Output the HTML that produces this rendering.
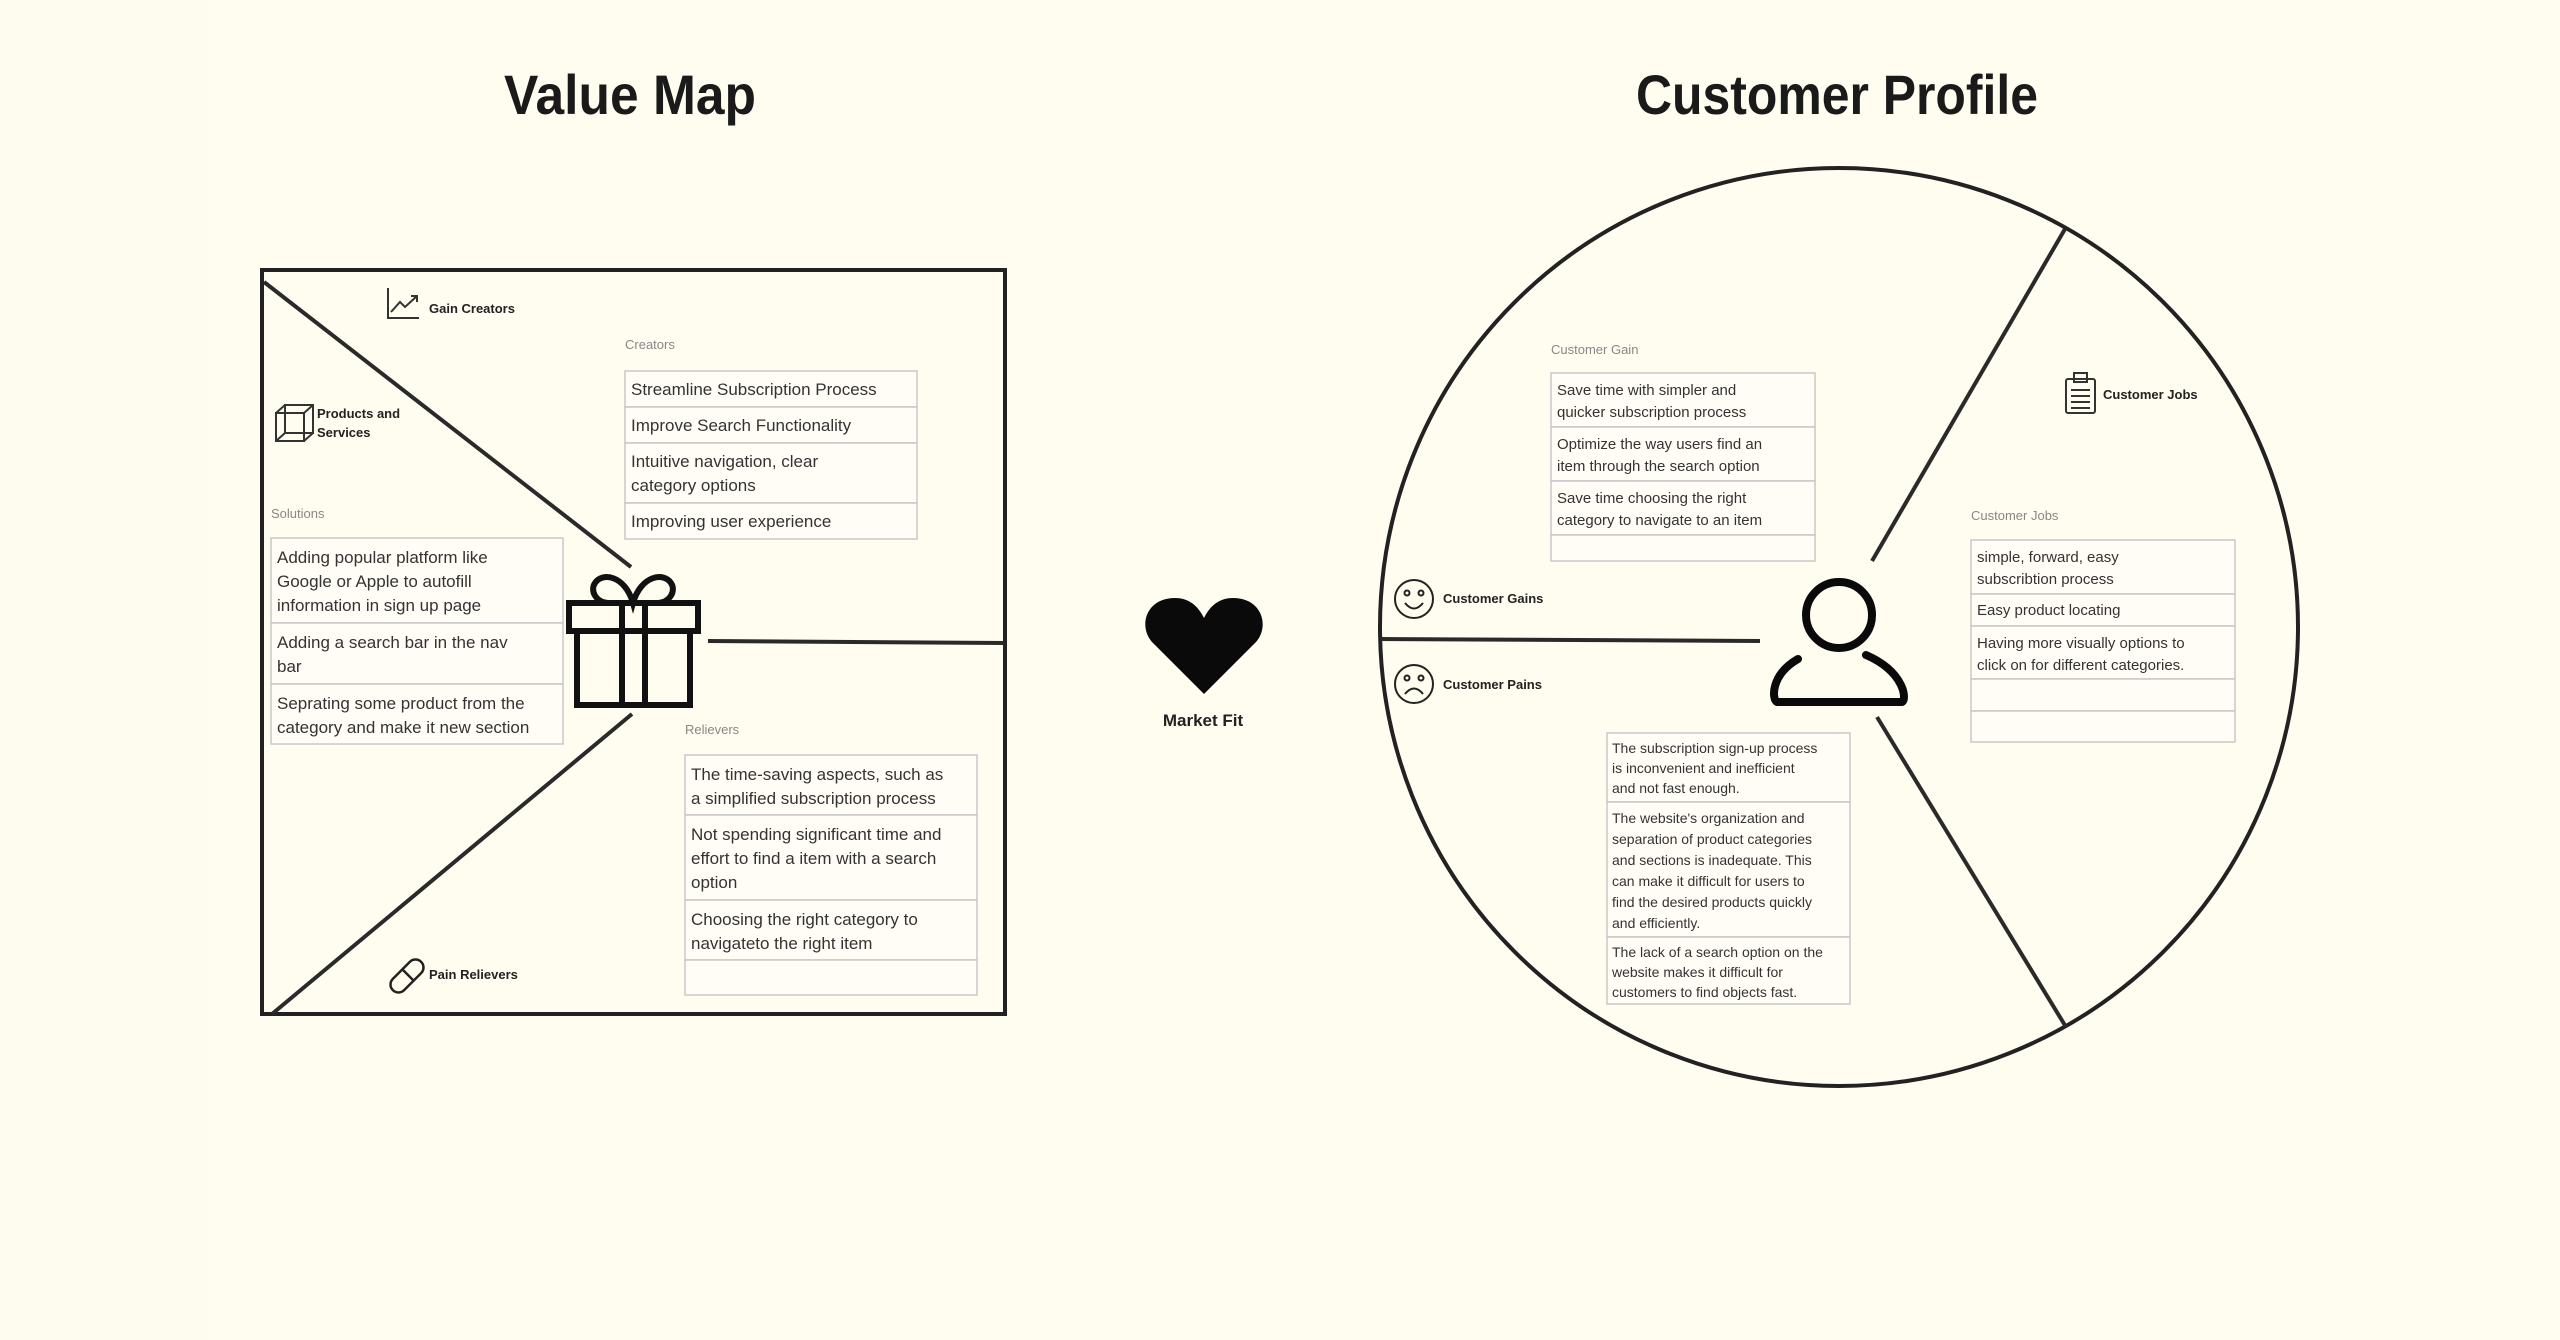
<!DOCTYPE html>
<html><head><meta charset="utf-8"><style>
html,body{margin:0;padding:0;background:#fffcf0;}
svg{display:block;}
text{font-family:"Liberation Sans",sans-serif;}
.t{font-size:17px;fill:#333;}
.s{font-size:15px;fill:#333;}
.p{font-size:14px;fill:#333;}
.g{font-size:13px;fill:#888;}
.b{font-size:13px;font-weight:bold;fill:#222;}
.cell{fill:#fffdf6;stroke:#c8c8c8;stroke-width:1.5;}
</style></head><body>
<svg width="2560" height="1340" viewBox="0 0 2560 1340" xmlns="http://www.w3.org/2000/svg">
<rect x="0" y="0" width="2560" height="1340" fill="#fffcf0"/>
<rect x="0" y="0" width="207" height="1340" fill="#fefbef"/>

<text x="630" y="114" text-anchor="middle" font-size="56" font-weight="bold" fill="#1a1a1a" textLength="252" lengthAdjust="spacingAndGlyphs">Value Map</text>
<text x="1837" y="114" text-anchor="middle" font-size="56" font-weight="bold" fill="#1a1a1a" textLength="402" lengthAdjust="spacingAndGlyphs">Customer Profile</text>

<rect x="262" y="270" width="743" height="744" fill="none" stroke="#222" stroke-width="4"/>
<line x1="264" y1="282" x2="631" y2="567" stroke="#2a2a2a" stroke-width="4"/>
<line x1="272" y1="1014" x2="632" y2="714" stroke="#2a2a2a" stroke-width="4"/>
<line x1="708" y1="641" x2="1004" y2="643" stroke="#2a2a2a" stroke-width="4"/>

<g fill="none" stroke="#111" stroke-width="6">
<rect x="569" y="603" width="129" height="28"/>
<rect x="577" y="631" width="113" height="74"/>
<line x1="622" y1="603" x2="622" y2="705"/>
<line x1="645" y1="603" x2="645" y2="705"/>
<path d="M633 603 H610 C595 603 590 590 595 583 C602 572 625 575 633 603 C641 575 664 572 671 583 C676 590 671 603 656 603 Z"/>
</g>

<g fill="none" stroke="#333" stroke-width="2">
<path d="M388 288 V318 H419"/><path d="M391 312 L400 302 L405 307 L417 296 M411 296 H417 V302"/>
</g>
<text class="b" x="429" y="313">Gain Creators</text>
<g fill="none" stroke="#333" stroke-width="2">
<rect x="276" y="413" width="28" height="28"/><rect x="285" y="405" width="28" height="28"/>
<path d="M276 413 L285 405 M304 413 L313 405 M276 441 L285 433 M304 441 L313 433"/>
</g>
<text class="b" x="317" y="418">Products and</text>
<text class="b" x="317" y="437">Services</text>

<text class="g" x="271" y="518">Solutions</text>
<rect class="cell" x="271" y="538" width="292" height="85"/>
<rect class="cell" x="271" y="623" width="292" height="61"/>
<rect class="cell" x="271" y="684" width="292" height="60"/>
<text class="t" x="277" y="563">Adding popular platform like</text>
<text class="t" x="277" y="587">Google or Apple to autofill</text>
<text class="t" x="277" y="611">information in sign up page</text>
<text class="t" x="277" y="648">Adding a search bar in the nav</text>
<text class="t" x="277" y="672">bar</text>
<text class="t" x="277" y="709">Seprating some product from the</text>
<text class="t" x="277" y="733">category and make it new section</text>

<text class="g" x="625" y="349">Creators</text>
<rect class="cell" x="625" y="371" width="292" height="36"/>
<rect class="cell" x="625" y="407" width="292" height="36"/>
<rect class="cell" x="625" y="443" width="292" height="60"/>
<rect class="cell" x="625" y="503" width="292" height="36"/>
<text class="t" x="631" y="395">Streamline Subscription Process</text>
<text class="t" x="631" y="431">Improve Search Functionality</text>
<text class="t" x="631" y="467">Intuitive navigation, clear</text>
<text class="t" x="631" y="491">category options</text>
<text class="t" x="631" y="527">Improving user experience</text>

<text class="g" x="685" y="734">Relievers</text>
<rect class="cell" x="685" y="755" width="292" height="60"/>
<rect class="cell" x="685" y="815" width="292" height="85"/>
<rect class="cell" x="685" y="900" width="292" height="60"/>
<rect class="cell" x="685" y="960" width="292" height="35"/>
<text class="t" x="691" y="780">The time-saving aspects, such as</text>
<text class="t" x="691" y="804">a simplified subscription process</text>
<text class="t" x="691" y="840">Not spending significant time and</text>
<text class="t" x="691" y="864">effort to find a item with a search</text>
<text class="t" x="691" y="888">option</text>
<text class="t" x="691" y="925">Choosing the right category to</text>
<text class="t" x="691" y="949">navigateto the right item</text>

<g fill="none" stroke="#222" stroke-width="2.5">
<rect x="387" y="968" width="40" height="16" rx="8" transform="rotate(-45 407 976)"/>
<line x1="402" y1="969" x2="414" y2="981"/>
</g>
<text class="b" x="429" y="979">Pain Relievers</text>

<path d="M1204 694 L1152 642 C1138 626 1146 598 1175 598 C1192 598 1200 610 1204 618 C1208 610 1216 598 1233 598 C1262 598 1270 626 1256 642 Z" fill="#0a0a0a"/>
<text x="1203" y="726" text-anchor="middle" font-size="17" font-weight="bold" fill="#222">Market Fit</text>

<ellipse cx="1839" cy="627" rx="459" ry="459" fill="none" stroke="#222" stroke-width="4"/>
<line x1="1872" y1="561" x2="2065" y2="229" stroke="#2a2a2a" stroke-width="4"/>
<line x1="1877" y1="717" x2="2066" y2="1027" stroke="#2a2a2a" stroke-width="4"/>
<line x1="1381" y1="639" x2="1760" y2="641" stroke="#2a2a2a" stroke-width="4"/>

<g fill="none" stroke="#0a0a0a" stroke-width="8">
<circle cx="1839" cy="615" r="33"/>
<path d="M1798 659 C1770 675 1772 700 1777 702 H1902 C1907 700 1905 672 1866 655" stroke-linecap="round"/>
</g>

<text class="g" x="1551" y="354">Customer Gain</text>
<rect class="cell" x="1551" y="373" width="264" height="54"/>
<rect class="cell" x="1551" y="427" width="264" height="54"/>
<rect class="cell" x="1551" y="481" width="264" height="54"/>
<rect class="cell" x="1551" y="535" width="264" height="26"/>
<text class="s" x="1557" y="395">Save time with simpler and</text>
<text class="s" x="1557" y="417">quicker subscription process</text>
<text class="s" x="1557" y="449">Optimize the way users find an</text>
<text class="s" x="1557" y="471">item through the search option</text>
<text class="s" x="1557" y="503">Save time choosing the right</text>
<text class="s" x="1557" y="525">category to navigate to an item</text>

<g fill="none" stroke="#333" stroke-width="2">
<rect x="2066" y="379" width="29" height="34" rx="2"/>
<rect x="2074" y="373" width="13" height="9"/>
<path d="M2071 390 H2090 M2071 396 H2090 M2071 402 H2090 M2071 408 H2090"/>
</g>
<text class="b" x="2103" y="399">Customer Jobs</text>

<text class="g" x="1971" y="520">Customer Jobs</text>
<rect class="cell" x="1971" y="540" width="264" height="54"/>
<rect class="cell" x="1971" y="594" width="264" height="32"/>
<rect class="cell" x="1971" y="626" width="264" height="53"/>
<rect class="cell" x="1971" y="679" width="264" height="32"/>
<rect class="cell" x="1971" y="711" width="264" height="31"/>
<text class="s" x="1977" y="562">simple, forward, easy</text>
<text class="s" x="1977" y="584">subscribtion process</text>
<text class="s" x="1977" y="615">Easy product locating</text>
<text class="s" x="1977" y="648">Having more visually options to</text>
<text class="s" x="1977" y="670">click on for different categories.</text>

<g fill="none" stroke="#222" stroke-width="2">
<circle cx="1414" cy="599" r="19"/><circle cx="1407" cy="593" r="2.5"/><circle cx="1421" cy="593" r="2.5"/>
<path d="M1405 603 Q1414 614 1423 603"/>
<circle cx="1414" cy="684" r="19"/><circle cx="1407" cy="678" r="2.5"/><circle cx="1421" cy="678" r="2.5"/>
<path d="M1405 694 Q1414 683 1423 694"/>
</g>
<text class="b" x="1443" y="603">Customer Gains</text>
<text class="b" x="1443" y="689">Customer Pains</text>

<rect class="cell" x="1607" y="733" width="243" height="69"/>
<rect class="cell" x="1607" y="802" width="243" height="135"/>
<rect class="cell" x="1607" y="937" width="243" height="67"/>
<text class="p" x="1612" y="753">The subscription sign-up process</text>
<text class="p" x="1612" y="773">is inconvenient and inefficient</text>
<text class="p" x="1612" y="793">and not fast enough.</text>
<text class="p" x="1612" y="823">The website's organization and</text>
<text class="p" x="1612" y="844">separation of product categories</text>
<text class="p" x="1612" y="865">and sections is inadequate. This</text>
<text class="p" x="1612" y="886">can make it difficult for users to</text>
<text class="p" x="1612" y="907">find the desired products quickly</text>
<text class="p" x="1612" y="928">and efficiently.</text>
<text class="p" x="1612" y="957">The lack of a search option on the</text>
<text class="p" x="1612" y="977">website makes it difficult for</text>
<text class="p" x="1612" y="997">customers to find objects fast.</text>
</svg>
</body></html>
